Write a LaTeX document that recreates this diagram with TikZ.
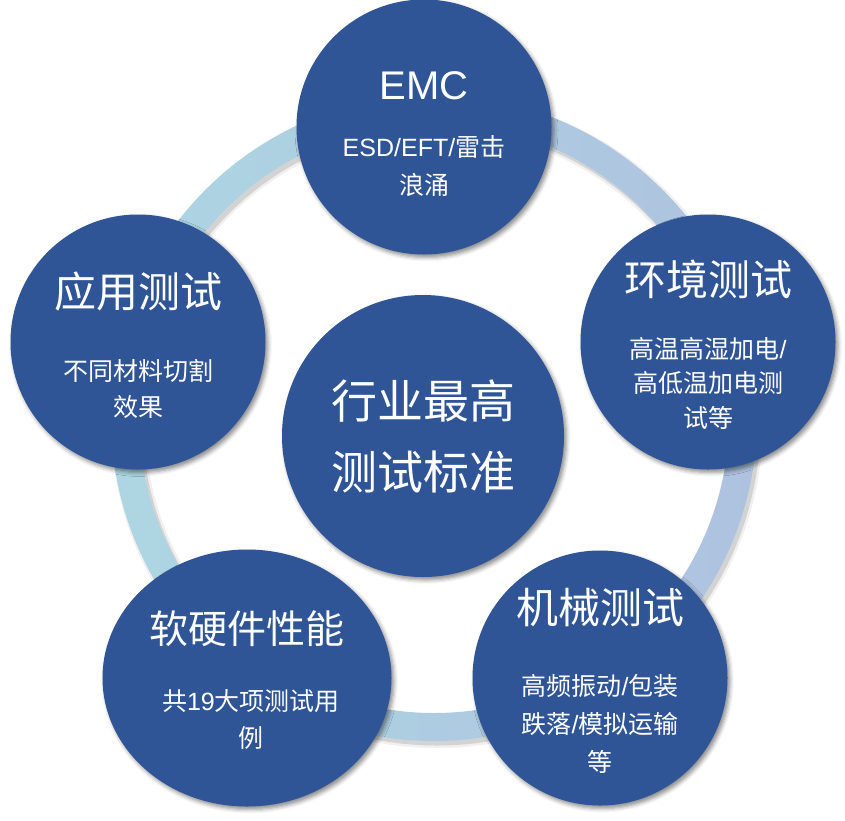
\documentclass[tikz,border=0pt]{standalone}
\usepackage{fontspec}
\setmainfont{Noto Sans CJK SC}
\newfontfamily\lat{Liberation Sans}
\usetikzlibrary{shapes.geometric,shadows.blur}
\definecolor{discblue}{HTML}{2F5597}
\definecolor{ringA}{HTML}{ADD6E2}
\definecolor{ringB}{HTML}{AEC2E0}
\begin{document}
\begin{tikzpicture}[x=1pt,y=-1pt,
  disc/.style={circle, fill=discblue, inner sep=0pt, minimum size=255pt,
    blur shadow={shadow xshift=2.5pt, shadow yshift=-3pt, shadow blur radius=4pt, shadow opacity=45}},
  ttl/.style={text=white, inner sep=0pt, font=\fontsize{41}{48}\selectfont},
  sub/.style={text=white, align=center, inner sep=0pt}]
\useasboundingbox (0,0) rectangle (845,820);
% ring
\coordinate (rc) at (434,418);
\coordinate (rcs) at (437,422);
\draw[black, opacity=0.06, line width=34pt] (rcs) circle (309pt);
\draw[black, opacity=0.12, line width=29pt] (rcs) circle (309pt);
\shade[even odd rule, left color=ringA, right color=ringB] (rc) circle (323pt) (rc) circle (295pt);
% discs
\node[disc] (emc) at (424,127) {};
\node[disc] (env) at (708,342) {};
\node[disc] (app) at (138,342) {};
\node[disc] (mech) at (600,678) {};
\node[disc, ellipse, minimum width=289pt, minimum height=257pt] (soft) at (247,678) {};
\node[disc, minimum size=282pt] (core) at (423,436) {};
% texts
\node[ttl, font=\lat\fontsize{40}{48}\selectfont] (emct) at (424,86) {EMC};
\node[sub, font=\fontsize{25}{38}\selectfont] (emcs) at (424,166) {{\lat ESD/EFT/}雷击\\浪涌};
\node[ttl, font=\fontsize{42}{48}\selectfont] (envt) at (708,279) {环境测试};
\node[sub, font=\fontsize{25}{34.5}\selectfont] (envs) at (708,383) {高温高湿加电{\lat /}\\高低温加电测\\试等};
\node[ttl, font=\fontsize{42}{48}\selectfont] (appt) at (138,292) {应用测试};
\node[sub, font=\fontsize{25}{36}\selectfont] (apps) at (138,389) {不同材料切割\\效果};
\node[ttl, font=\fontsize{39}{48}\selectfont] (softt) at (247,629) {软硬件性能};
\node[sub, font=\fontsize{25}{37}\selectfont] (softs) at (251,720) {共{\lat 19}大项测试用\\例};
\node[ttl, font=\fontsize{42}{48}\selectfont] (mecht) at (600,608) {机械测试};
\node[sub, font=\fontsize{25}{38}\selectfont] (mechs) at (600,724) {高频振动{\lat /}包装\\跌落{\lat /}模拟运输\\等};
\node[sub, font=\fontsize{46}{71}\selectfont] (coret) at (423,436) {行业最高\\测试标准};
\end{tikzpicture}
\end{document}
